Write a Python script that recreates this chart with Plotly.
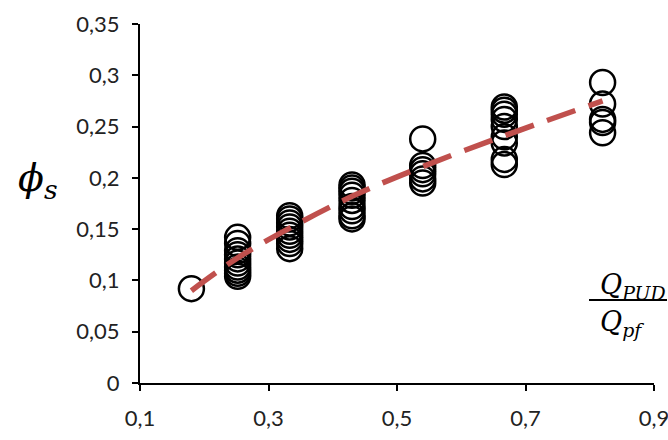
import plotly.graph_objects as go

# ---- data ----
x_groups = [0.18, 0.252, 0.333, 0.43, 0.54, 0.667, 0.82]
phi_values = [
    [0.092],
    [0.142, 0.136, 0.129, 0.125, 0.121, 0.117, 0.113, 0.110, 0.107, 0.104],
    [0.163, 0.160, 0.156, 0.152, 0.148, 0.144, 0.140, 0.136, 0.131],
    [0.193, 0.190, 0.187, 0.183, 0.178, 0.172, 0.168, 0.163, 0.160],
    [0.238, 0.212, 0.208, 0.204, 0.199, 0.195],
    [0.269, 0.266, 0.262, 0.257, 0.250, 0.240, 0.234, 0.218, 0.213],
    [0.293, 0.272, 0.257, 0.254, 0.244],
]
trend_x = [0.18, 0.252, 0.333, 0.43, 0.54, 0.667, 0.82]
trend_y = [0.090, 0.122, 0.151, 0.182, 0.211, 0.241, 0.275]

y_ticks = [0, 0.05, 0.1, 0.15, 0.2, 0.25, 0.3, 0.35]
y_ticklabels = ["0", "0,05", "0,1", "0,15", "0,2", "0,25", "0,3", "0,35"]
x_ticks = [0.1, 0.3, 0.5, 0.7, 0.9]
x_ticklabels = ["0,1", "0,3", "0,5", "0,7", "0,9"]

xs, ys = [], []
for gx, vals in zip(x_groups, phi_values):
    for v in vals:
        xs.append(gx)
        ys.append(v)

fig = go.Figure()
fig.add_trace(go.Scatter(
    x=xs, y=ys, mode="markers",
    marker=dict(symbol="circle-open", size=25, color="black",
                line=dict(width=2.5, color="black")),
    showlegend=False, cliponaxis=False,
))
fig.add_trace(go.Scatter(
    x=trend_x, y=trend_y, mode="lines", line_shape="spline",
    line=dict(color="#C0504D", width=5.5, dash="30px,14px"),
    showlegend=False,
))

tick_font = dict(family="Lato, Carlito, Open Sans, sans-serif", size=22, color="#222")

# paper is a bit wider than the window so the last x tick label is not dropped
fig.update_layout(
    width=690, height=440,
    margin=dict(l=140, r=36, t=24, b=57, autoexpand=False),
    paper_bgcolor="white", plot_bgcolor="white",
    xaxis=dict(range=[0.1, 0.9], tickvals=x_ticks, ticktext=x_ticklabels,
               showgrid=False, zeroline=False, showline=True, automargin=False,
               linecolor="black", linewidth=2, ticks="outside", ticklen=6,
               tickwidth=2, tickcolor="black", tickfont=tick_font,
               ticklabelstandoff=9),
    yaxis=dict(range=[0, 0.35], tickvals=y_ticks, ticktext=y_ticklabels,
               showgrid=False, zeroline=False, showline=True, automargin=False,
               linecolor="black", linewidth=2, ticks="outside", ticklen=6,
               tickwidth=2, tickcolor="black", tickfont=tick_font,
               ticklabelstandoff=8),
)

def px_x(p):
    return (p - 140) / 514.0

def px_y(p):
    return (383 - p) / 359.0

serif = "DejaVu Serif, Liberation Serif, serif"
ann = dict(xref="paper", yref="paper", showarrow=False,
           xanchor="center", yanchor="middle")
fig.add_annotation(x=px_x(38), y=px_y(180),
                   text="<i>ϕ</i><sub><i>s</i></sub>",
                   font=dict(family=serif, size=38, color="black"), **ann)
fig.add_annotation(x=px_x(633), y=px_y(286),
                   text="<i>Q</i><sub><i>PUD</i></sub>",
                   font=dict(family=serif, size=27, color="black"), **ann)
fig.add_annotation(x=px_x(622), y=px_y(323),
                   text="<i>Q</i><sub><i>pf</i></sub>",
                   font=dict(family=serif, size=27, color="black"), **ann)
fig.add_shape(type="line", xref="paper", yref="paper",
              x0=px_x(589), x1=px_x(667), y0=px_y(300), y1=px_y(300),
              line=dict(color="black", width=2))

fig.write_html(
    "out.html",
    config={"displayModeBar": False},
    post_script="document.body.style.margin='0';document.body.style.overflow='hidden';",
)
